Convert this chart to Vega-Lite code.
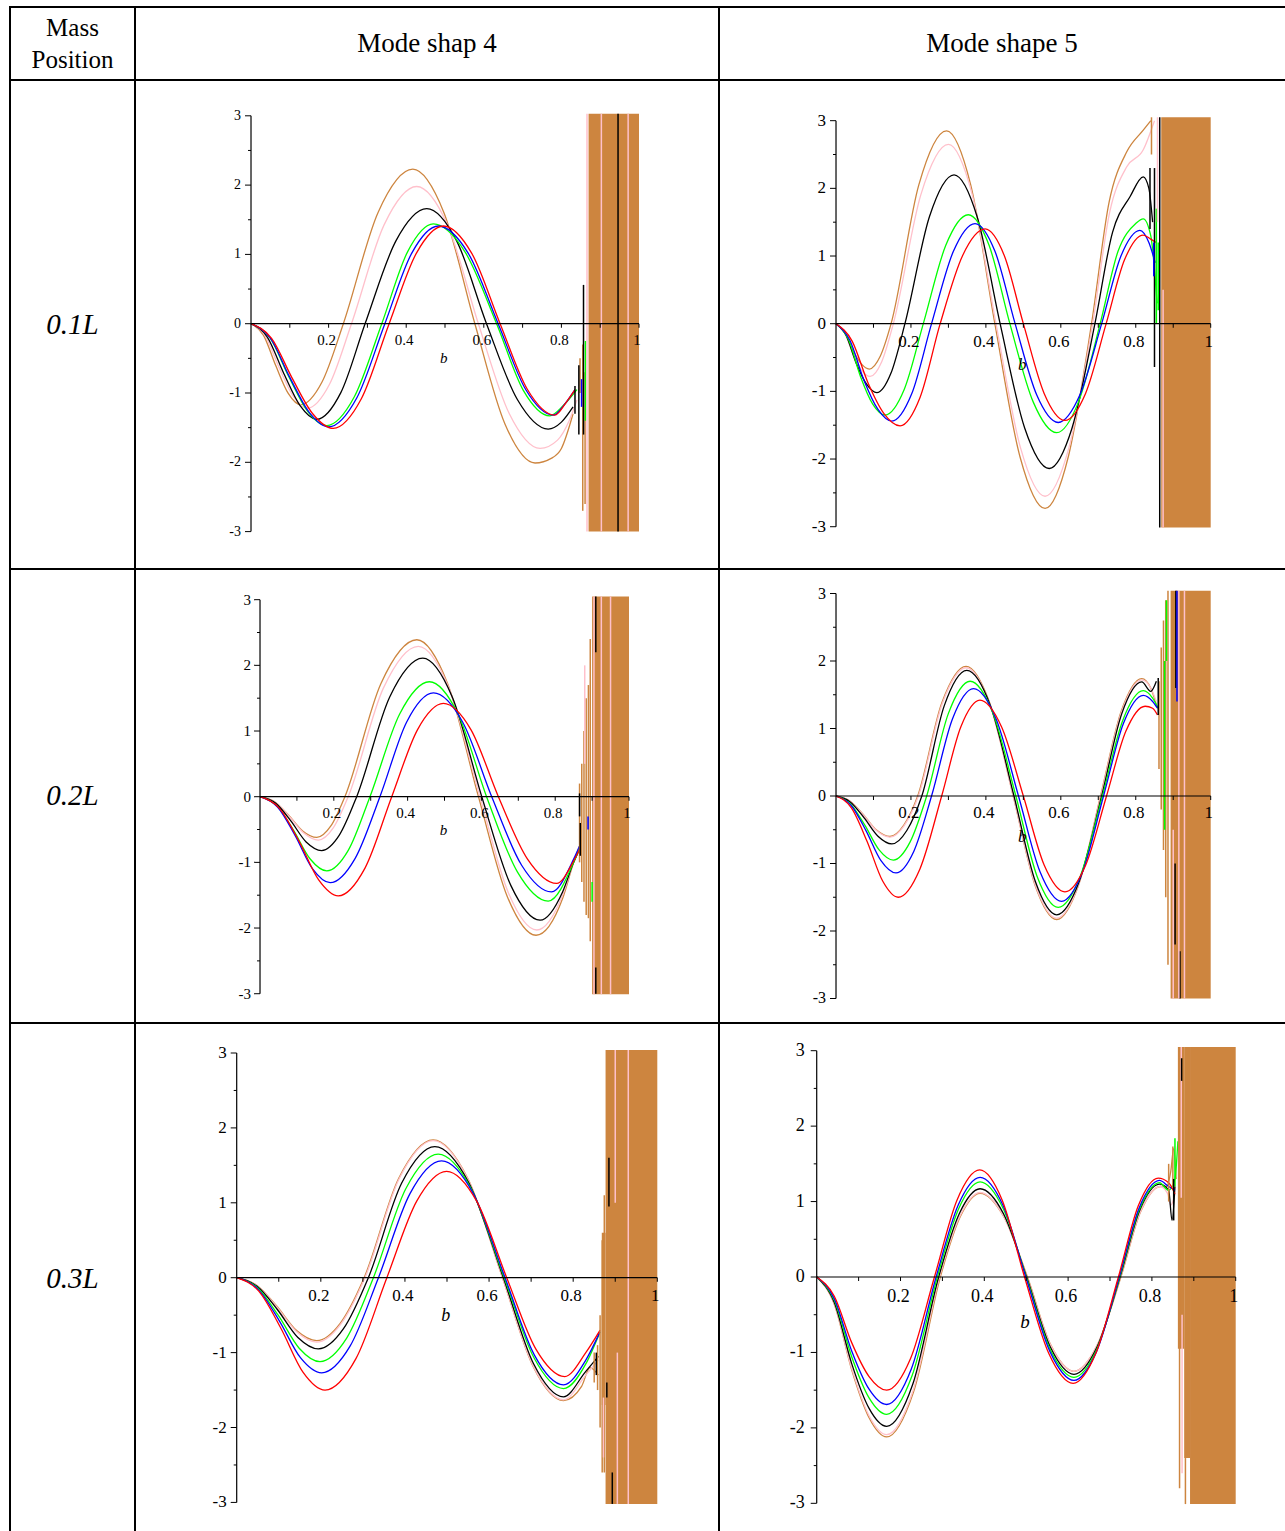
{
"$schema":"https://vega.github.io/schema/vega-lite/v6.json",
"padding":{"left":9,"top":6,"right":0,"bottom":0},
"config":{"view":{"stroke":"#000000","strokeWidth":2},"concat":{"spacing":0},"text":{"font":"Liberation Serif","color":"#000000"}},
"spacing":0,
"bounds":"flush",
"columns":3,
"datasets":{
"xt":[{"x":0.1,"y":0},{"x":0.2,"y":0},{"x":0.3,"y":0},{"x":0.4,"y":0},{"x":0.5,"y":0},{"x":0.6,"y":0},{"x":0.7,"y":0},{"x":0.8,"y":0},{"x":0.9,"y":0},{"x":1.0,"y":0}],
"ytM":[{"x":0,"y":-3},{"x":0,"y":-2},{"x":0,"y":-1},{"x":0,"y":0},{"x":0,"y":1},{"x":0,"y":2},{"x":0,"y":3}],
"ytm":[{"x":0,"y":-2.5},{"x":0,"y":-1.5},{"x":0,"y":-0.5},{"x":0,"y":0.5},{"x":0,"y":1.5},{"x":0,"y":2.5}],
"xl":[{"x":0.2,"y":0,"t":"0.2"},{"x":0.4,"y":0,"t":"0.4"},{"x":0.6,"y":0,"t":"0.6"},{"x":0.8,"y":0,"t":"0.8"},{"x":1.0,"y":0,"t":"1"}],
"yl":[{"x":0,"y":3,"t":"3"},{"x":0,"y":2,"t":"2"},{"x":0,"y":1,"t":"1"},{"x":0,"y":0,"t":"0"},{"x":0,"y":-1,"t":"-1"},{"x":0,"y":-2,"t":"-2"},{"x":0,"y":-3,"t":"-3"}],
"al":[{"x":0,"y":-3,"x2":0,"y2":3},{"x":0,"y":0,"x2":1.0,"y2":0}],
"bl":[{"x":0.497,"y":0,"t":"b"}],
"cA":[
{"s":"brown","x":0,"y":0},{"s":"brown","x":0.032,"y":-0.164},{"s":"brown","x":0.064,"y":-0.608},{"s":"brown","x":0.096,"y":-1.006},{"s":"brown","x":0.128,"y":-1.17},{"s":"brown","x":0.183,"y":-0.842},{"s":"brown","x":0.238,"y":0},{"s":"brown","x":0.3275,"y":1.606},{"s":"brown","x":0.417,"y":2.23},{"s":"brown","x":0.497,"y":1.606},{"s":"brown","x":0.577,"y":0},{"s":"brown","x":0.6545,"y":-1.447},{"s":"brown","x":0.732,"y":-2.01},{"s":"brown","x":0.775,"y":-1.94},{"s":"brown","x":0.8,"y":-1.8},{"s":"brown","x":0.83,"y":-1.3},
{"s":"pink","x":0,"y":0},{"s":"pink","x":0.036,"y":-0.171},{"s":"pink","x":0.0725,"y":-0.634},{"s":"pink","x":0.109,"y":-1.049},{"s":"pink","x":0.145,"y":-1.22},{"s":"pink","x":0.202,"y":-0.878},{"s":"pink","x":0.259,"y":0},{"s":"pink","x":0.343,"y":1.426},{"s":"pink","x":0.427,"y":1.98},{"s":"pink","x":0.5065,"y":1.426},{"s":"pink","x":0.586,"y":0},{"s":"pink","x":0.6655,"y":-1.296},{"s":"pink","x":0.745,"y":-1.8},{"s":"pink","x":0.79,"y":-1.68},{"s":"pink","x":0.82,"y":-1.4},{"s":"pink","x":0.84,"y":-1.1},
{"s":"black","x":0,"y":0},{"s":"black","x":0.042,"y":-0.193},{"s":"black","x":0.0845,"y":-0.718},{"s":"black","x":0.127,"y":-1.187},{"s":"black","x":0.169,"y":-1.38},{"s":"black","x":0.2315,"y":-0.994},{"s":"black","x":0.294,"y":0},{"s":"black","x":0.3735,"y":1.195},{"s":"black","x":0.453,"y":1.66},{"s":"black","x":0.53,"y":1.195},{"s":"black","x":0.607,"y":0},{"s":"black","x":0.6865,"y":-1.094},{"s":"black","x":0.766,"y":-1.52},{"s":"black","x":0.8,"y":-1.42},{"s":"black","x":0.83,"y":-1.2},
{"s":"green","x":0,"y":0},{"s":"green","x":0.049,"y":-0.206},{"s":"green","x":0.0975,"y":-0.764},{"s":"green","x":0.146,"y":-1.264},{"s":"green","x":0.195,"y":-1.47},{"s":"green","x":0.266,"y":-1.058},{"s":"green","x":0.337,"y":0},{"s":"green","x":0.4035,"y":1.037},{"s":"green","x":0.47,"y":1.44},{"s":"green","x":0.5515,"y":1.037},{"s":"green","x":0.633,"y":0},{"s":"green","x":0.7015,"y":-0.958},{"s":"green","x":0.77,"y":-1.33},{"s":"green","x":0.805,"y":-1.18},{"s":"green","x":0.84,"y":-0.95},
{"s":"blue","x":0,"y":0},{"s":"blue","x":0.05,"y":-0.209},{"s":"blue","x":0.1,"y":-0.775},{"s":"blue","x":0.15,"y":-1.281},{"s":"blue","x":0.2,"y":-1.49},{"s":"blue","x":0.2725,"y":-1.073},{"s":"blue","x":0.345,"y":0},{"s":"blue","x":0.414,"y":1.015},{"s":"blue","x":0.483,"y":1.41},{"s":"blue","x":0.56,"y":1.015},{"s":"blue","x":0.637,"y":0},{"s":"blue","x":0.708,"y":-0.95},{"s":"blue","x":0.779,"y":-1.32},{"s":"blue","x":0.81,"y":-1.15},{"s":"blue","x":0.835,"y":-0.95},
{"s":"red","x":0,"y":0},{"s":"red","x":0.053,"y":-0.211},{"s":"red","x":0.106,"y":-0.785},{"s":"red","x":0.159,"y":-1.299},{"s":"red","x":0.212,"y":-1.51},{"s":"red","x":0.284,"y":-1.087},{"s":"red","x":0.356,"y":0},{"s":"red","x":0.426,"y":1.015},{"s":"red","x":0.496,"y":1.41},{"s":"red","x":0.569,"y":1.015},{"s":"red","x":0.642,"y":0},{"s":"red","x":0.7125,"y":-0.95},{"s":"red","x":0.783,"y":-1.32},{"s":"red","x":0.814,"y":-1.12},{"s":"red","x":0.835,"y":-0.95}
],
"bA":[{"x":0.87,"x2":1.0,"y":-3.0,"y2":3.03}],
"nA":[{"s":"brown","x":0.848,"y":-1.0,"y2":-0.5},{"s":"brown","x":0.855,"y":-2.7,"y2":-0.3},{"s":"brown","x":0.861,"y":-2.6,"y2":-0.7},{"s":"black","x":0.835,"y":-1.3,"y2":-0.9},{"s":"black","x":0.845,"y":-1.6,"y2":-0.6},{"s":"black","x":0.857,"y":-1.6,"y2":0.56},{"s":"blue","x":0.852,"y":-1.2,"y2":-0.8},{"s":"green","x":0.862,"y":-1.4,"y2":-0.25},{"s":"pink","x":0.866,"y":-3.0,"y2":3.03},{"s":"pink","x":0.903,"y":-3.0,"y2":3.03},{"s":"pink","x":0.972,"y":-3.0,"y2":3.03},{"s":"black","x":0.946,"y":-3.0,"y2":3.03}],
"cB":[
{"s":"brown","x":0,"y":0},{"s":"brown","x":0.022,"y":-0.114},{"s":"brown","x":0.0445,"y":-0.389},{"s":"brown","x":0.067,"y":-0.59},{"s":"brown","x":0.089,"y":-0.67},{"s":"brown","x":0.118,"y":-0.482},{"s":"brown","x":0.147,"y":0},{"s":"brown","x":0.221,"y":2.052},{"s":"brown","x":0.295,"y":2.85},{"s":"brown","x":0.3595,"y":2.052},{"s":"brown","x":0.424,"y":0},{"s":"brown","x":0.491,"y":-1.966},{"s":"brown","x":0.558,"y":-2.73},{"s":"brown","x":0.62,"y":-1.966},{"s":"brown","x":0.682,"y":0},{"s":"brown","x":0.729,"y":1.8},{"s":"brown","x":0.776,"y":2.54},{"s":"brown","x":0.82,"y":2.86},{"s":"brown","x":0.84,"y":3.0},
{"s":"pink","x":0,"y":0},{"s":"pink","x":0.023,"y":-0.133},{"s":"pink","x":0.0455,"y":-0.452},{"s":"pink","x":0.068,"y":-0.686},{"s":"pink","x":0.091,"y":-0.78},{"s":"pink","x":0.122,"y":-0.562},{"s":"pink","x":0.153,"y":0},{"s":"pink","x":0.2265,"y":1.908},{"s":"pink","x":0.3,"y":2.65},{"s":"pink","x":0.3635,"y":1.908},{"s":"pink","x":0.427,"y":0},{"s":"pink","x":0.4925,"y":-1.836},{"s":"pink","x":0.558,"y":-2.55},{"s":"pink","x":0.6215,"y":-1.836},{"s":"pink","x":0.685,"y":0},{"s":"pink","x":0.7305,"y":1.65},{"s":"pink","x":0.776,"y":2.32},{"s":"pink","x":0.82,"y":2.57},{"s":"pink","x":0.85,"y":3.0},
{"s":"black","x":0,"y":0},{"s":"black","x":0.027,"y":-0.173},{"s":"black","x":0.0545,"y":-0.592},{"s":"black","x":0.082,"y":-0.898},{"s":"black","x":0.109,"y":-1.02},{"s":"black","x":0.1465,"y":-0.734},{"s":"black","x":0.184,"y":0},{"s":"black","x":0.2495,"y":1.584},{"s":"black","x":0.315,"y":2.2},{"s":"black","x":0.3765,"y":1.584},{"s":"black","x":0.438,"y":0},{"s":"black","x":0.5035,"y":-1.541},{"s":"black","x":0.569,"y":-2.14},{"s":"black","x":0.63,"y":-1.541},{"s":"black","x":0.691,"y":0},{"s":"black","x":0.738,"y":1.35},{"s":"black","x":0.785,"y":1.88},{"s":"black","x":0.82,"y":2.17},{"s":"black","x":0.835,"y":2.0},{"s":"black","x":0.845,"y":1.5},
{"s":"green","x":0,"y":0},{"s":"green","x":0.033,"y":-0.23},{"s":"green","x":0.0655,"y":-0.783},{"s":"green","x":0.098,"y":-1.188},{"s":"green","x":0.131,"y":-1.35},{"s":"green","x":0.182,"y":-0.972},{"s":"green","x":0.233,"y":0},{"s":"green","x":0.293,"y":1.159},{"s":"green","x":0.353,"y":1.61},{"s":"green","x":0.4085,"y":1.159},{"s":"green","x":0.464,"y":0},{"s":"green","x":0.5265,"y":-1.159},{"s":"green","x":0.589,"y":-1.61},{"s":"green","x":0.647,"y":-1.159},{"s":"green","x":0.705,"y":0},{"s":"green","x":0.7525,"y":1.066},{"s":"green","x":0.8,"y":1.48},{"s":"green","x":0.82,"y":1.55},{"s":"green","x":0.84,"y":1.3},{"s":"green","x":0.857,"y":0.3},
{"s":"blue","x":0,"y":0},{"s":"blue","x":0.037,"y":-0.245},{"s":"blue","x":0.0745,"y":-0.835},{"s":"blue","x":0.112,"y":-1.267},{"s":"blue","x":0.149,"y":-1.44},{"s":"blue","x":0.202,"y":-1.037},{"s":"blue","x":0.255,"y":0},{"s":"blue","x":0.313,"y":1.066},{"s":"blue","x":0.371,"y":1.48},{"s":"blue","x":0.4245,"y":1.066},{"s":"blue","x":0.478,"y":0},{"s":"blue","x":0.5355,"y":-1.051},{"s":"blue","x":0.593,"y":-1.46},{"s":"blue","x":0.651,"y":-1.051},{"s":"blue","x":0.709,"y":0},{"s":"blue","x":0.76,"y":0.994},{"s":"blue","x":0.811,"y":1.38},{"s":"blue","x":0.835,"y":1.2},{"s":"blue","x":0.852,"y":0.9},
{"s":"red","x":0,"y":0},{"s":"red","x":0.043,"y":-0.257},{"s":"red","x":0.0855,"y":-0.876},{"s":"red","x":0.128,"y":-1.329},{"s":"red","x":0.171,"y":-1.51},{"s":"red","x":0.2245,"y":-1.087},{"s":"red","x":0.278,"y":0},{"s":"red","x":0.338,"y":1.008},{"s":"red","x":0.398,"y":1.4},{"s":"red","x":0.449,"y":1.008},{"s":"red","x":0.5,"y":0},{"s":"red","x":0.5555,"y":-1.03},{"s":"red","x":0.611,"y":-1.43},{"s":"red","x":0.666,"y":-1.03},{"s":"red","x":0.721,"y":0},{"s":"red","x":0.77,"y":0.943},{"s":"red","x":0.82,"y":1.31},{"s":"red","x":0.84,"y":1.25},{"s":"red","x":0.855,"y":1.2}
],
"bB":[{"x":0.868,"x2":1.0,"y":-3.01,"y2":3.05}],
"nB":[{"s":"black","x":0.85,"y":-0.64,"y2":2.3},{"s":"black","x":0.838,"y":1.4,"y2":2.3},{"s":"blue","x":0.848,"y":0.7,"y2":1.2},{"s":"green","x":0.855,"y":0.0,"y2":1.7},{"s":"green","x":0.86,"y":0.2,"y2":1.2},{"s":"pink","x":0.858,"y":1.5,"y2":3.05},{"s":"brown","x":0.842,"y":2.5,"y2":3.05},{"s":"black","x":0.864,"y":-3.01,"y2":3.05},{"s":"pink","x":0.873,"y":-3.01,"y2":0.5}],
"cC":[
{"s":"brown","x":0,"y":0},{"s":"brown","x":0.0385,"y":-0.074},{"s":"brown","x":0.077,"y":-0.279},{"s":"brown","x":0.1155,"y":-0.521},{"s":"brown","x":0.154,"y":-0.62},{"s":"brown","x":0.192,"y":-0.446},{"s":"brown","x":0.23,"y":0},{"s":"brown","x":0.3275,"y":1.721},{"s":"brown","x":0.425,"y":2.39},{"s":"brown","x":0.5085,"y":1.721},{"s":"brown","x":0.592,"y":0},{"s":"brown","x":0.67,"y":-1.519},{"s":"brown","x":0.748,"y":-2.11},{"s":"brown","x":0.82,"y":-1.55},{"s":"brown","x":0.85,"y":-1.0},{"s":"brown","x":0.866,"y":-0.75},
{"s":"pink","x":0,"y":0},{"s":"pink","x":0.0395,"y":-0.079},{"s":"pink","x":0.079,"y":-0.297},{"s":"pink","x":0.1185,"y":-0.554},{"s":"pink","x":0.158,"y":-0.66},{"s":"pink","x":0.1985,"y":-0.475},{"s":"pink","x":0.239,"y":0},{"s":"pink","x":0.334,"y":1.649},{"s":"pink","x":0.429,"y":2.29},{"s":"pink","x":0.5125,"y":1.649},{"s":"pink","x":0.596,"y":0},{"s":"pink","x":0.673,"y":-1.462},{"s":"pink","x":0.75,"y":-2.03},{"s":"pink","x":0.82,"y":-1.5},{"s":"pink","x":0.85,"y":-1.0},{"s":"pink","x":0.866,"y":-0.8},
{"s":"black","x":0,"y":0},{"s":"black","x":0.042,"y":-0.098},{"s":"black","x":0.0835,"y":-0.369},{"s":"black","x":0.125,"y":-0.689},{"s":"black","x":0.167,"y":-0.82},{"s":"black","x":0.2145,"y":-0.59},{"s":"black","x":0.262,"y":0},{"s":"black","x":0.3515,"y":1.519},{"s":"black","x":0.441,"y":2.11},{"s":"black","x":0.521,"y":1.519},{"s":"black","x":0.601,"y":0},{"s":"black","x":0.68,"y":-1.354},{"s":"black","x":0.759,"y":-1.88},{"s":"black","x":0.82,"y":-1.45},{"s":"black","x":0.85,"y":-1.0},{"s":"black","x":0.866,"y":-0.8},
{"s":"green","x":0,"y":0},{"s":"green","x":0.045,"y":-0.136},{"s":"green","x":0.0905,"y":-0.509},{"s":"green","x":0.136,"y":-0.949},{"s":"green","x":0.181,"y":-1.13},{"s":"green","x":0.2395,"y":-0.814},{"s":"green","x":0.298,"y":0},{"s":"green","x":0.3785,"y":1.26},{"s":"green","x":0.459,"y":1.75},{"s":"green","x":0.5365,"y":1.26},{"s":"green","x":0.614,"y":0},{"s":"green","x":0.6975,"y":-1.145},{"s":"green","x":0.781,"y":-1.59},{"s":"green","x":0.85,"y":-1.0},{"s":"green","x":0.866,"y":-0.78},
{"s":"blue","x":0,"y":0},{"s":"blue","x":0.0475,"y":-0.157},{"s":"blue","x":0.095,"y":-0.59},{"s":"blue","x":0.1425,"y":-1.1},{"s":"blue","x":0.19,"y":-1.31},{"s":"blue","x":0.2575,"y":-0.943},{"s":"blue","x":0.325,"y":0},{"s":"blue","x":0.3975,"y":1.138},{"s":"blue","x":0.47,"y":1.58},{"s":"blue","x":0.549,"y":1.138},{"s":"blue","x":0.628,"y":0},{"s":"blue","x":0.709,"y":-1.044},{"s":"blue","x":0.79,"y":-1.45},{"s":"blue","x":0.85,"y":-0.95},{"s":"blue","x":0.866,"y":-0.75},
{"s":"red","x":0,"y":0},{"s":"red","x":0.053,"y":-0.181},{"s":"red","x":0.106,"y":-0.68},{"s":"red","x":0.159,"y":-1.268},{"s":"red","x":0.212,"y":-1.51},{"s":"red","x":0.2845,"y":-1.087},{"s":"red","x":0.357,"y":0},{"s":"red","x":0.427,"y":1.022},{"s":"red","x":0.497,"y":1.42},{"s":"red","x":0.5715,"y":1.022},{"s":"red","x":0.646,"y":0},{"s":"red","x":0.725,"y":-0.95},{"s":"red","x":0.804,"y":-1.32},{"s":"red","x":0.849,"y":-0.99},{"s":"red","x":0.866,"y":-0.8}
],
"bC":[{"x":0.9,"x2":1.0,"y":-3.01,"y2":3.05}],
"nC":[{"s":"brown","x":0.866,"y":-1.0,"y2":0.2},{"s":"brown","x":0.872,"y":-1.3,"y2":0.5},{"s":"brown","x":0.878,"y":-1.6,"y2":1.0},{"s":"brown","x":0.884,"y":-1.8,"y2":1.5},{"s":"brown","x":0.89,"y":-1.85,"y2":1.7},{"s":"brown","x":0.895,"y":-2.2,"y2":2.4},{"s":"black","x":0.868,"y":-0.9,"y2":-0.4},{"s":"black","x":0.866,"y":-0.3,"y2":0.05},{"s":"black","x":0.91,"y":2.2,"y2":3.05},{"s":"black","x":0.91,"y":-3.0,"y2":-2.6},{"s":"blue","x":0.889,"y":-0.5,"y2":-0.3},{"s":"green","x":0.9,"y":-1.6,"y2":-1.3},{"s":"pink","x":0.905,"y":-3.01,"y2":3.05},{"s":"pink","x":0.925,"y":-3.01,"y2":3.05},{"s":"pink","x":0.95,"y":-3.01,"y2":3.05},{"s":"pink","x":0.88,"y":0.5,"y2":2.0}],
"cD":[
{"s":"brown","x":0,"y":0},{"s":"brown","x":0.036,"y":-0.072},{"s":"brown","x":0.072,"y":-0.27},{"s":"brown","x":0.108,"y":-0.504},{"s":"brown","x":0.144,"y":-0.6},{"s":"brown","x":0.181,"y":-0.432},{"s":"brown","x":0.218,"y":0},{"s":"brown","x":0.2825,"y":1.382},{"s":"brown","x":0.347,"y":1.92},{"s":"brown","x":0.41,"y":1.382},{"s":"brown","x":0.473,"y":0},{"s":"brown","x":0.531,"y":-1.318},{"s":"brown","x":0.589,"y":-1.83},{"s":"brown","x":0.6475,"y":-1.318},{"s":"brown","x":0.706,"y":0},{"s":"brown","x":0.761,"y":1.253},{"s":"brown","x":0.816,"y":1.74},{"s":"brown","x":0.84,"y":1.6},{"s":"brown","x":0.855,"y":1.35},
{"s":"pink","x":0,"y":0},{"s":"pink","x":0.036,"y":-0.073},{"s":"pink","x":0.072,"y":-0.275},{"s":"pink","x":0.108,"y":-0.512},{"s":"pink","x":0.144,"y":-0.61},{"s":"pink","x":0.182,"y":-0.439},{"s":"pink","x":0.22,"y":0},{"s":"pink","x":0.2835,"y":1.368},{"s":"pink","x":0.347,"y":1.9},{"s":"pink","x":0.41,"y":1.368},{"s":"pink","x":0.473,"y":0},{"s":"pink","x":0.531,"y":-1.303},{"s":"pink","x":0.589,"y":-1.81},{"s":"pink","x":0.648,"y":-1.303},{"s":"pink","x":0.707,"y":0},{"s":"pink","x":0.7615,"y":1.238},{"s":"pink","x":0.816,"y":1.72},{"s":"pink","x":0.84,"y":1.6},{"s":"pink","x":0.855,"y":1.4},
{"s":"black","x":0,"y":0},{"s":"black","x":0.037,"y":-0.085},{"s":"black","x":0.0745,"y":-0.32},{"s":"black","x":0.112,"y":-0.596},{"s":"black","x":0.149,"y":-0.71},{"s":"black","x":0.189,"y":-0.511},{"s":"black","x":0.229,"y":0},{"s":"black","x":0.289,"y":1.339},{"s":"black","x":0.349,"y":1.86},{"s":"black","x":0.412,"y":1.339},{"s":"black","x":0.475,"y":0},{"s":"black","x":0.532,"y":-1.267},{"s":"black","x":0.589,"y":-1.76},{"s":"black","x":0.649,"y":-1.267},{"s":"black","x":0.709,"y":0},{"s":"black","x":0.7625,"y":1.217},{"s":"black","x":0.816,"y":1.69},{"s":"black","x":0.84,"y":1.55},{"s":"black","x":0.855,"y":1.7},
{"s":"green","x":0,"y":0},{"s":"green","x":0.038,"y":-0.114},{"s":"green","x":0.0765,"y":-0.428},{"s":"green","x":0.115,"y":-0.798},{"s":"green","x":0.153,"y":-0.95},{"s":"green","x":0.1975,"y":-0.684},{"s":"green","x":0.242,"y":0},{"s":"green","x":0.3,"y":1.224},{"s":"green","x":0.358,"y":1.7},{"s":"green","x":0.419,"y":1.224},{"s":"green","x":0.48,"y":0},{"s":"green","x":0.5365,"y":-1.188},{"s":"green","x":0.593,"y":-1.65},{"s":"green","x":0.652,"y":-1.188},{"s":"green","x":0.711,"y":0},{"s":"green","x":0.7655,"y":1.123},{"s":"green","x":0.82,"y":1.56},{"s":"green","x":0.845,"y":1.45},{"s":"green","x":0.86,"y":1.3},
{"s":"blue","x":0,"y":0},{"s":"blue","x":0.04,"y":-0.137},{"s":"blue","x":0.08,"y":-0.513},{"s":"blue","x":0.12,"y":-0.958},{"s":"blue","x":0.16,"y":-1.14},{"s":"blue","x":0.2075,"y":-0.821},{"s":"blue","x":0.255,"y":0},{"s":"blue","x":0.311,"y":1.145},{"s":"blue","x":0.367,"y":1.59},{"s":"blue","x":0.427,"y":1.145},{"s":"blue","x":0.487,"y":0},{"s":"blue","x":0.5445,"y":-1.123},{"s":"blue","x":0.602,"y":-1.56},{"s":"blue","x":0.658,"y":-1.123},{"s":"blue","x":0.714,"y":0},{"s":"blue","x":0.767,"y":1.073},{"s":"blue","x":0.82,"y":1.49},{"s":"blue","x":0.845,"y":1.4},{"s":"blue","x":0.858,"y":1.3},
{"s":"red","x":0,"y":0},{"s":"red","x":0.0415,"y":-0.18},{"s":"red","x":0.083,"y":-0.675},{"s":"red","x":0.1245,"y":-1.26},{"s":"red","x":0.166,"y":-1.5},{"s":"red","x":0.224,"y":-1.08},{"s":"red","x":0.282,"y":0},{"s":"red","x":0.333,"y":1.022},{"s":"red","x":0.384,"y":1.42},{"s":"red","x":0.442,"y":1.022},{"s":"red","x":0.5,"y":0},{"s":"red","x":0.5555,"y":-1.022},{"s":"red","x":0.611,"y":-1.42},{"s":"red","x":0.6665,"y":-1.022},{"s":"red","x":0.722,"y":0},{"s":"red","x":0.7735,"y":0.958},{"s":"red","x":0.825,"y":1.33},{"s":"red","x":0.845,"y":1.3},{"s":"red","x":0.858,"y":1.2}
],
"bD":[{"x":0.893,"x2":1.0,"y":-3.0,"y2":3.04}],
"nD":[{"s":"brown","x":0.862,"y":0.4,"y2":1.7},{"s":"brown","x":0.868,"y":-0.2,"y2":2.2},{"s":"brown","x":0.874,"y":-0.8,"y2":2.6},{"s":"brown","x":0.88,"y":-1.5,"y2":2.9},{"s":"brown","x":0.886,"y":-2.5,"y2":3.04},{"s":"green","x":0.877,"y":-0.5,"y2":2.0},{"s":"green","x":0.882,"y":2.0,"y2":2.9},{"s":"black","x":0.86,"y":1.2,"y2":1.75},{"s":"black","x":0.905,"y":-2.2,"y2":-1.0},{"s":"black","x":0.907,"y":1.6,"y2":3.04},{"s":"black","x":0.918,"y":-3.0,"y2":-2.3},{"s":"blue","x":0.91,"y":1.4,"y2":3.04},{"s":"pink","x":0.9,"y":-3.0,"y2":-0.5},{"s":"pink","x":0.915,"y":-3.0,"y2":3.04},{"s":"pink","x":0.93,"y":-3.0,"y2":3.04}],
"cE":[
{"s":"brown","x":0,"y":0},{"s":"brown","x":0.0475,"y":-0.101},{"s":"brown","x":0.095,"y":-0.378},{"s":"brown","x":0.1425,"y":-0.706},{"s":"brown","x":0.19,"y":-0.84},{"s":"brown","x":0.2465,"y":-0.605},{"s":"brown","x":0.303,"y":0},{"s":"brown","x":0.385,"y":1.325},{"s":"brown","x":0.467,"y":1.84},{"s":"brown","x":0.5495,"y":1.325},{"s":"brown","x":0.632,"y":0},{"s":"brown","x":0.7045,"y":-1.181},{"s":"brown","x":0.777,"y":-1.64},{"s":"brown","x":0.82,"y":-1.45},{"s":"brown","x":0.84,"y":-1.2},{"s":"brown","x":0.86,"y":-1.3},
{"s":"pink","x":0,"y":0},{"s":"pink","x":0.0475,"y":-0.103},{"s":"pink","x":0.095,"y":-0.387},{"s":"pink","x":0.1425,"y":-0.722},{"s":"pink","x":0.19,"y":-0.86},{"s":"pink","x":0.2475,"y":-0.619},{"s":"pink","x":0.305,"y":0},{"s":"pink","x":0.386,"y":1.318},{"s":"pink","x":0.467,"y":1.83},{"s":"pink","x":0.5495,"y":1.318},{"s":"pink","x":0.632,"y":0},{"s":"pink","x":0.7045,"y":-1.174},{"s":"pink","x":0.777,"y":-1.63},{"s":"pink","x":0.83,"y":-1.3},{"s":"pink","x":0.86,"y":-1.1},
{"s":"black","x":0,"y":0},{"s":"black","x":0.0485,"y":-0.114},{"s":"black","x":0.097,"y":-0.428},{"s":"black","x":0.1455,"y":-0.798},{"s":"black","x":0.194,"y":-0.95},{"s":"black","x":0.2535,"y":-0.684},{"s":"black","x":0.313,"y":0},{"s":"black","x":0.392,"y":1.26},{"s":"black","x":0.471,"y":1.75},{"s":"black","x":0.5525,"y":1.26},{"s":"black","x":0.634,"y":0},{"s":"black","x":0.7055,"y":-1.145},{"s":"black","x":0.777,"y":-1.59},{"s":"black","x":0.83,"y":-1.25},{"s":"black","x":0.86,"y":-1.05},
{"s":"green","x":0,"y":0},{"s":"green","x":0.0495,"y":-0.134},{"s":"green","x":0.099,"y":-0.504},{"s":"green","x":0.1485,"y":-0.941},{"s":"green","x":0.198,"y":-1.12},{"s":"green","x":0.2615,"y":-0.806},{"s":"green","x":0.325,"y":0},{"s":"green","x":0.402,"y":1.188},{"s":"green","x":0.479,"y":1.65},{"s":"green","x":0.5575,"y":1.188},{"s":"green","x":0.636,"y":0},{"s":"green","x":0.7065,"y":-1.066},{"s":"green","x":0.777,"y":-1.48},{"s":"green","x":0.83,"y":-1.15},{"s":"green","x":0.864,"y":-0.72},
{"s":"blue","x":0,"y":0},{"s":"blue","x":0.0505,"y":-0.152},{"s":"blue","x":0.101,"y":-0.572},{"s":"blue","x":0.1515,"y":-1.067},{"s":"blue","x":0.202,"y":-1.27},{"s":"blue","x":0.2695,"y":-0.914},{"s":"blue","x":0.337,"y":0},{"s":"blue","x":0.412,"y":1.123},{"s":"blue","x":0.487,"y":1.56},{"s":"blue","x":0.5625,"y":1.123},{"s":"blue","x":0.638,"y":0},{"s":"blue","x":0.7075,"y":-1.03},{"s":"blue","x":0.777,"y":-1.43},{"s":"blue","x":0.83,"y":-1.1},{"s":"blue","x":0.864,"y":-0.72},
{"s":"red","x":0,"y":0},{"s":"red","x":0.0525,"y":-0.18},{"s":"red","x":0.105,"y":-0.675},{"s":"red","x":0.1575,"y":-1.26},{"s":"red","x":0.21,"y":-1.5},{"s":"red","x":0.2835,"y":-1.08},{"s":"red","x":0.357,"y":0},{"s":"red","x":0.428,"y":1.022},{"s":"red","x":0.499,"y":1.42},{"s":"red","x":0.5705,"y":1.022},{"s":"red","x":0.642,"y":0},{"s":"red","x":0.711,"y":-0.95},{"s":"red","x":0.78,"y":-1.32},{"s":"red","x":0.83,"y":-1.0},{"s":"red","x":0.864,"y":-0.7}
],
"bE":[{"x":0.877,"x2":1.0,"y":-3.02,"y2":3.04},{"x":0.868,"x2":0.877,"y":-1.7,"y2":0.6}],
"nE":[{"s":"brown","x":0.85,"y":-1.4,"y2":-1.0},{"s":"brown","x":0.858,"y":-1.5,"y2":-0.9},{"s":"brown","x":0.864,"y":-2.0,"y2":-0.5},{"s":"brown","x":0.869,"y":-2.6,"y2":0.5},{"s":"brown","x":0.874,"y":-2.6,"y2":1.1},{"s":"black","x":0.855,"y":-1.3,"y2":-1.0},{"s":"black","x":0.885,"y":0.95,"y2":1.6},{"s":"black","x":0.88,"y":-1.6,"y2":-1.4},{"s":"black","x":0.893,"y":-3.02,"y2":-2.6},{"s":"pink","x":0.9,"y":1.0,"y2":3.04},{"s":"pink","x":0.905,"y":-3.02,"y2":-1.0},{"s":"pink","x":0.931,"y":-3.02,"y2":3.04},{"s":"pink","x":0.872,"y":-2.4,"y2":-1.6}],
"cF":[
{"s":"brown","x":0,"y":0},{"s":"brown","x":0.042,"y":-0.36},{"s":"brown","x":0.0835,"y":-1.23},{"s":"brown","x":0.125,"y":-1.866},{"s":"brown","x":0.167,"y":-2.12},{"s":"brown","x":0.231,"y":-1.526},{"s":"brown","x":0.295,"y":0},{"s":"brown","x":0.3425,"y":0.799},{"s":"brown","x":0.39,"y":1.11},{"s":"brown","x":0.4465,"y":0.799},{"s":"brown","x":0.503,"y":0},{"s":"brown","x":0.5585,"y":-0.9},{"s":"brown","x":0.614,"y":-1.25},{"s":"brown","x":0.67,"y":-0.9},{"s":"brown","x":0.726,"y":0},{"s":"brown","x":0.773,"y":0.864},{"s":"brown","x":0.82,"y":1.2},{"s":"brown","x":0.835,"y":1.2},{"s":"brown","x":0.845,"y":1.4},{"s":"brown","x":0.852,"y":1.7},{"s":"brown","x":0.858,"y":1.3},
{"s":"pink","x":0,"y":0},{"s":"pink","x":0.042,"y":-0.355},{"s":"pink","x":0.0835,"y":-1.212},{"s":"pink","x":0.125,"y":-1.839},{"s":"pink","x":0.167,"y":-2.09},{"s":"pink","x":0.23,"y":-1.505},{"s":"pink","x":0.293,"y":0},{"s":"pink","x":0.3415,"y":0.806},{"s":"pink","x":0.39,"y":1.12},{"s":"pink","x":0.446,"y":0.806},{"s":"pink","x":0.502,"y":0},{"s":"pink","x":0.558,"y":-0.9},{"s":"pink","x":0.614,"y":-1.25},{"s":"pink","x":0.6695,"y":-0.9},{"s":"pink","x":0.725,"y":0},{"s":"pink","x":0.7725,"y":0.864},{"s":"pink","x":0.82,"y":1.2},{"s":"pink","x":0.838,"y":1.1},{"s":"pink","x":0.845,"y":0.95},{"s":"pink","x":0.855,"y":1.1},
{"s":"black","x":0,"y":0},{"s":"black","x":0.042,"y":-0.337},{"s":"black","x":0.0835,"y":-1.148},{"s":"black","x":0.125,"y":-1.742},{"s":"black","x":0.167,"y":-1.98},{"s":"black","x":0.229,"y":-1.426},{"s":"black","x":0.291,"y":0},{"s":"black","x":0.3405,"y":0.842},{"s":"black","x":0.39,"y":1.17},{"s":"black","x":0.4455,"y":0.842},{"s":"black","x":0.501,"y":0},{"s":"black","x":0.5575,"y":-0.929},{"s":"black","x":0.614,"y":-1.29},{"s":"black","x":0.669,"y":-0.929},{"s":"black","x":0.724,"y":0},{"s":"black","x":0.771,"y":0.886},{"s":"black","x":0.818,"y":1.23},{"s":"black","x":0.84,"y":1.15},{"s":"black","x":0.848,"y":0.75},{"s":"black","x":0.855,"y":1.2},
{"s":"green","x":0,"y":0},{"s":"green","x":0.042,"y":-0.309},{"s":"green","x":0.0835,"y":-1.056},{"s":"green","x":0.125,"y":-1.602},{"s":"green","x":0.167,"y":-1.82},{"s":"green","x":0.2275,"y":-1.31},{"s":"green","x":0.288,"y":0},{"s":"green","x":0.339,"y":0.907},{"s":"green","x":0.39,"y":1.26},{"s":"green","x":0.445,"y":0.907},{"s":"green","x":0.5,"y":0},{"s":"green","x":0.557,"y":-0.958},{"s":"green","x":0.614,"y":-1.33},{"s":"green","x":0.6685,"y":-0.958},{"s":"green","x":0.723,"y":0},{"s":"green","x":0.7705,"y":0.9},{"s":"green","x":0.818,"y":1.25},{"s":"green","x":0.84,"y":1.15},{"s":"green","x":0.855,"y":1.3},{"s":"green","x":0.862,"y":1.8},
{"s":"blue","x":0,"y":0},{"s":"blue","x":0.042,"y":-0.287},{"s":"blue","x":0.0835,"y":-0.98},{"s":"blue","x":0.125,"y":-1.487},{"s":"blue","x":0.167,"y":-1.69},{"s":"blue","x":0.226,"y":-1.217},{"s":"blue","x":0.285,"y":0},{"s":"blue","x":0.3375,"y":0.95},{"s":"blue","x":0.39,"y":1.32},{"s":"blue","x":0.4445,"y":0.95},{"s":"blue","x":0.499,"y":0},{"s":"blue","x":0.5565,"y":-0.986},{"s":"blue","x":0.614,"y":-1.37},{"s":"blue","x":0.668,"y":-0.986},{"s":"blue","x":0.722,"y":0},{"s":"blue","x":0.77,"y":0.922},{"s":"blue","x":0.818,"y":1.28},{"s":"blue","x":0.84,"y":1.2},{"s":"blue","x":0.855,"y":1.15},
{"s":"red","x":0,"y":0},{"s":"red","x":0.042,"y":-0.255},{"s":"red","x":0.0835,"y":-0.87},{"s":"red","x":0.125,"y":-1.32},{"s":"red","x":0.167,"y":-1.5},{"s":"red","x":0.224,"y":-1.08},{"s":"red","x":0.281,"y":0},{"s":"red","x":0.335,"y":1.022},{"s":"red","x":0.389,"y":1.42},{"s":"red","x":0.4425,"y":1.022},{"s":"red","x":0.496,"y":0},{"s":"red","x":0.554,"y":-1.015},{"s":"red","x":0.612,"y":-1.41},{"s":"red","x":0.666,"y":-1.015},{"s":"red","x":0.72,"y":0},{"s":"red","x":0.7675,"y":0.943},{"s":"red","x":0.815,"y":1.31},{"s":"red","x":0.84,"y":1.25},{"s":"red","x":0.855,"y":1.1}
],
"bF":[{"x":0.891,"x2":1.0,"y":-3.01,"y2":3.05},{"x":0.877,"x2":0.891,"y":-2.4,"y2":3.05},{"x":0.862,"x2":0.877,"y":-0.95,"y2":3.05}],
"nF":[{"s":"brown","x":0.84,"y":1.0,"y2":1.5},{"s":"brown","x":0.85,"y":1.2,"y2":1.73},{"s":"green","x":0.855,"y":1.2,"y2":1.84},{"s":"black","x":0.852,"y":0.75,"y2":1.3},{"s":"brown","x":0.866,"y":-2.8,"y2":3.05},{"s":"pink","x":0.87,"y":1.05,"y2":3.05},{"s":"black","x":0.871,"y":2.6,"y2":2.9},{"s":"pink","x":0.872,"y":-2.6,"y2":-0.5},{"s":"brown","x":0.88,"y":-3.01,"y2":-2.4}]
},
"concat":[
 {"width":125,"height":73,"data":{"values":[{"t":"Mass\nPosition"}]},"mark":{"type":"text","fontSize":25,"lineBreak":"\n","lineHeight":32,"dy":-16},"encoding":{"x":{"datum":0.5,"type":"quantitative","scale":{"domain":[0,1]},"axis":null},"y":{"datum":0.5,"type":"quantitative","scale":{"domain":[0,1]},"axis":null},"text":{"field":"t"}}},
 {"width":584,"height":73,"data":{"values":[{"t":"Mode shap 4"}]},"mark":{"type":"text","fontSize":27},"encoding":{"x":{"datum":0.5,"type":"quantitative","scale":{"domain":[0,1]},"axis":null},"y":{"datum":0.5,"type":"quantitative","scale":{"domain":[0,1]},"axis":null},"text":{"field":"t"}}},
 {"width":570,"height":73,"data":{"values":[{"t":"Mode shape 5"}]},"mark":{"type":"text","fontSize":27,"dx":-2},"encoding":{"x":{"datum":0.5,"type":"quantitative","scale":{"domain":[0,1]},"axis":null},"y":{"datum":0.5,"type":"quantitative","scale":{"domain":[0,1]},"axis":null},"text":{"field":"t"}}},
 {"width":125,"height":489,"data":{"values":[{"t":"0.1L"}]},"mark":{"type":"text","fontSize":29,"fontStyle":"italic"},"encoding":{"x":{"datum":0.5,"type":"quantitative","scale":{"domain":[0,1]},"axis":null},"y":{"datum":0.5,"type":"quantitative","scale":{"domain":[0,1]},"axis":null},"text":{"field":"t"}}},
 {"width":584,"height":489,
  "encoding":{"x":{"field":"x","type":"quantitative","scale":{"domain":[-0.299,1.2062],"nice":false,"zero":false},"axis":null},"y":{"field":"y","type":"quantitative","scale":{"domain":[-3.5397,3.5166],"nice":false,"zero":false},"axis":null}},
  "layer":[
   {"data":{"name":"cA"},"mark":{"type":"line","interpolate":"monotone","strokeWidth":1.3},"encoding":{"color":{"field":"s","type":"nominal","scale":{"domain":["brown","pink","black","green","blue","red"],"range":["#cd853f","#ffc0cb","#000000","#00ff00","#0000ff","#ff0000"]},"legend":null}}},
   {"data":{"name":"bA"},"mark":{"type":"rect","color":"#cd853f"},"encoding":{"x2":{"field":"x2"},"y2":{"field":"y2"}}},
   {"data":{"name":"nA"},"mark":{"type":"rule","strokeWidth":1.5},"encoding":{"y2":{"field":"y2"},"color":{"field":"s","type":"nominal","scale":{"domain":["brown","pink","black","green","blue","red"],"range":["#cd853f","#ffc0cb","#000000","#00ff00","#0000ff","#ff0000"]},"legend":null}}},
   {"data":{"name":"al"},"mark":{"type":"rule","color":"#000000","strokeWidth":1.2},"encoding":{"x2":{"field":"x2"},"y2":{"field":"y2"}}},
   {"data":{"name":"xt"},"mark":{"type":"tick","orient":"vertical","size":4,"thickness":1,"color":"#000000","yOffset":2,"opacity":1}},
   {"data":{"name":"ytM"},"mark":{"type":"tick","orient":"horizontal","size":6,"thickness":1,"color":"#000000","xOffset":-3,"opacity":1}},
   {"data":{"name":"ytm"},"mark":{"type":"tick","orient":"horizontal","size":3,"thickness":1,"color":"#000000","xOffset":-1.5,"opacity":1}},
   {"data":{"name":"xl"},"mark":{"type":"text","fontSize":15,"dy":16,"dx":-2,"baseline":"middle"},"encoding":{"text":{"field":"t"}}},
   {"data":{"name":"yl"},"mark":{"type":"text","fontSize":14,"dx":-10,"align":"right","baseline":"middle"},"encoding":{"text":{"field":"t"}}},
   {"data":{"name":"bl"},"mark":{"type":"text","fontSize":15,"fontStyle":"italic","dy":34,"baseline":"middle"},"encoding":{"text":{"field":"t"}}}
  ]},
 {"width":570,"height":489,
  "encoding":{"x":{"field":"x","type":"quantitative","scale":{"domain":[-0.3123,1.209],"nice":false,"zero":false},"axis":null},"y":{"field":"y","type":"quantitative","scale":{"domain":[-3.625,3.601],"nice":false,"zero":false},"axis":null}},
  "layer":[
   {"data":{"name":"cB"},"mark":{"type":"line","interpolate":"monotone","strokeWidth":1.3},"encoding":{"color":{"field":"s","type":"nominal","scale":{"domain":["brown","pink","black","green","blue","red"],"range":["#cd853f","#ffc0cb","#000000","#00ff00","#0000ff","#ff0000"]},"legend":null}}},
   {"data":{"name":"bB"},"mark":{"type":"rect","color":"#cd853f"},"encoding":{"x2":{"field":"x2"},"y2":{"field":"y2"}}},
   {"data":{"name":"nB"},"mark":{"type":"rule","strokeWidth":1.5},"encoding":{"y2":{"field":"y2"},"color":{"field":"s","type":"nominal","scale":{"domain":["brown","pink","black","green","blue","red"],"range":["#cd853f","#ffc0cb","#000000","#00ff00","#0000ff","#ff0000"]},"legend":null}}},
   {"data":{"name":"al"},"mark":{"type":"rule","color":"#000000","strokeWidth":1.2},"encoding":{"x2":{"field":"x2"},"y2":{"field":"y2"}}},
   {"data":{"name":"xt"},"mark":{"type":"tick","orient":"vertical","size":4,"thickness":1,"color":"#000000","yOffset":2,"opacity":1}},
   {"data":{"name":"ytM"},"mark":{"type":"tick","orient":"horizontal","size":6,"thickness":1,"color":"#000000","xOffset":-3,"opacity":1}},
   {"data":{"name":"ytm"},"mark":{"type":"tick","orient":"horizontal","size":3,"thickness":1,"color":"#000000","xOffset":-1.5,"opacity":1}},
   {"data":{"name":"xl"},"mark":{"type":"text","fontSize":17,"dy":18,"dx":-2,"baseline":"middle"},"encoding":{"text":{"field":"t"}}},
   {"data":{"name":"yl"},"mark":{"type":"text","fontSize":17,"dx":-10,"align":"right","baseline":"middle"},"encoding":{"text":{"field":"t"}}},
   {"data":{"name":"bl"},"mark":{"type":"text","fontSize":17,"fontStyle":"italic","dy":41,"baseline":"middle"},"encoding":{"text":{"field":"t"}}}
  ]},
 {"width":125,"height":454,"data":{"values":[{"t":"0.2L"}]},"mark":{"type":"text","fontSize":29,"fontStyle":"italic"},"encoding":{"x":{"datum":0.5,"type":"quantitative","scale":{"domain":[0,1]},"axis":null},"y":{"datum":0.5,"type":"quantitative","scale":{"domain":[0,1]},"axis":null},"text":{"field":"t"}}},
 {"width":584,"height":454,
  "encoding":{"x":{"field":"x","type":"quantitative","scale":{"domain":[-0.3388,1.2439],"nice":false,"zero":false},"axis":null},"y":{"field":"y","type":"quantitative","scale":{"domain":[-3.446,3.467],"nice":false,"zero":false},"axis":null}},
  "layer":[
   {"data":{"name":"cC"},"mark":{"type":"line","interpolate":"monotone","strokeWidth":1.3},"encoding":{"color":{"field":"s","type":"nominal","scale":{"domain":["brown","pink","black","green","blue","red"],"range":["#cd853f","#ffc0cb","#000000","#00ff00","#0000ff","#ff0000"]},"legend":null}}},
   {"data":{"name":"bC"},"mark":{"type":"rect","color":"#cd853f"},"encoding":{"x2":{"field":"x2"},"y2":{"field":"y2"}}},
   {"data":{"name":"nC"},"mark":{"type":"rule","strokeWidth":1.5},"encoding":{"y2":{"field":"y2"},"color":{"field":"s","type":"nominal","scale":{"domain":["brown","pink","black","green","blue","red"],"range":["#cd853f","#ffc0cb","#000000","#00ff00","#0000ff","#ff0000"]},"legend":null}}},
   {"data":{"name":"al"},"mark":{"type":"rule","color":"#000000","strokeWidth":1.2},"encoding":{"x2":{"field":"x2"},"y2":{"field":"y2"}}},
   {"data":{"name":"xt"},"mark":{"type":"tick","orient":"vertical","size":4,"thickness":1,"color":"#000000","yOffset":2,"opacity":1}},
   {"data":{"name":"ytM"},"mark":{"type":"tick","orient":"horizontal","size":6,"thickness":1,"color":"#000000","xOffset":-3,"opacity":1}},
   {"data":{"name":"ytm"},"mark":{"type":"tick","orient":"horizontal","size":3,"thickness":1,"color":"#000000","xOffset":-1.5,"opacity":1}},
   {"data":{"name":"xl"},"mark":{"type":"text","fontSize":15,"dy":16,"dx":-2,"baseline":"middle"},"encoding":{"text":{"field":"t"}}},
   {"data":{"name":"yl"},"mark":{"type":"text","fontSize":15,"dx":-9,"align":"right","baseline":"middle"},"encoding":{"text":{"field":"t"}}},
   {"data":{"name":"bl"},"mark":{"type":"text","fontSize":15,"fontStyle":"italic","dy":33,"baseline":"middle"},"encoding":{"text":{"field":"t"}}}
  ]},
 {"width":570,"height":454,
  "encoding":{"x":{"field":"x","type":"quantitative","scale":{"domain":[-0.3123,1.209],"nice":false,"zero":false},"axis":null},"y":{"field":"y","type":"quantitative","scale":{"domain":[-3.363,3.363],"nice":false,"zero":false},"axis":null}},
  "layer":[
   {"data":{"name":"cD"},"mark":{"type":"line","interpolate":"monotone","strokeWidth":1.3},"encoding":{"color":{"field":"s","type":"nominal","scale":{"domain":["brown","pink","black","green","blue","red"],"range":["#cd853f","#ffc0cb","#000000","#00ff00","#0000ff","#ff0000"]},"legend":null}}},
   {"data":{"name":"bD"},"mark":{"type":"rect","color":"#cd853f"},"encoding":{"x2":{"field":"x2"},"y2":{"field":"y2"}}},
   {"data":{"name":"nD"},"mark":{"type":"rule","strokeWidth":1.5},"encoding":{"y2":{"field":"y2"},"color":{"field":"s","type":"nominal","scale":{"domain":["brown","pink","black","green","blue","red"],"range":["#cd853f","#ffc0cb","#000000","#00ff00","#0000ff","#ff0000"]},"legend":null}}},
   {"data":{"name":"al"},"mark":{"type":"rule","color":"#000000","strokeWidth":1.2},"encoding":{"x2":{"field":"x2"},"y2":{"field":"y2"}}},
   {"data":{"name":"xt"},"mark":{"type":"tick","orient":"vertical","size":4,"thickness":1,"color":"#000000","yOffset":2,"opacity":1}},
   {"data":{"name":"ytM"},"mark":{"type":"tick","orient":"horizontal","size":6,"thickness":1,"color":"#000000","xOffset":-3,"opacity":1}},
   {"data":{"name":"ytm"},"mark":{"type":"tick","orient":"horizontal","size":3,"thickness":1,"color":"#000000","xOffset":-1.5,"opacity":1}},
   {"data":{"name":"xl"},"mark":{"type":"text","fontSize":17,"dy":17,"dx":-2,"baseline":"middle"},"encoding":{"text":{"field":"t"}}},
   {"data":{"name":"yl"},"mark":{"type":"text","fontSize":16,"dx":-10,"align":"right","baseline":"middle"},"encoding":{"text":{"field":"t"}}},
   {"data":{"name":"bl"},"mark":{"type":"text","fontSize":17,"fontStyle":"italic","dy":41,"baseline":"middle"},"encoding":{"text":{"field":"t"}}}
  ]},
 {"width":125,"height":512,"data":{"values":[{"t":"0.3L"}]},"mark":{"type":"text","fontSize":29,"fontStyle":"italic"},"encoding":{"x":{"datum":0.5,"type":"quantitative","scale":{"domain":[0,1]},"axis":null},"y":{"datum":0.5,"type":"quantitative","scale":{"domain":[0,1]},"axis":null},"text":{"field":"t"}}},
 {"width":584,"height":512,
  "encoding":{"x":{"field":"x","type":"quantitative","scale":{"domain":[-0.2418,1.1467],"nice":false,"zero":false},"axis":null},"y":{"field":"y","type":"quantitative","scale":{"domain":[-3.435,3.4005],"nice":false,"zero":false},"axis":null}},
  "layer":[
   {"data":{"name":"cE"},"mark":{"type":"line","interpolate":"monotone","strokeWidth":1.3},"encoding":{"color":{"field":"s","type":"nominal","scale":{"domain":["brown","pink","black","green","blue","red"],"range":["#cd853f","#ffc0cb","#000000","#00ff00","#0000ff","#ff0000"]},"legend":null}}},
   {"data":{"name":"bE"},"mark":{"type":"rect","color":"#cd853f"},"encoding":{"x2":{"field":"x2"},"y2":{"field":"y2"}}},
   {"data":{"name":"nE"},"mark":{"type":"rule","strokeWidth":1.5},"encoding":{"y2":{"field":"y2"},"color":{"field":"s","type":"nominal","scale":{"domain":["brown","pink","black","green","blue","red"],"range":["#cd853f","#ffc0cb","#000000","#00ff00","#0000ff","#ff0000"]},"legend":null}}},
   {"data":{"name":"al"},"mark":{"type":"rule","color":"#000000","strokeWidth":1.2},"encoding":{"x2":{"field":"x2"},"y2":{"field":"y2"}}},
   {"data":{"name":"xt"},"mark":{"type":"tick","orient":"vertical","size":4,"thickness":1,"color":"#000000","yOffset":2,"opacity":1}},
   {"data":{"name":"ytM"},"mark":{"type":"tick","orient":"horizontal","size":6,"thickness":1,"color":"#000000","xOffset":-3,"opacity":1}},
   {"data":{"name":"ytm"},"mark":{"type":"tick","orient":"horizontal","size":3,"thickness":1,"color":"#000000","xOffset":-1.5,"opacity":1}},
   {"data":{"name":"xl"},"mark":{"type":"text","fontSize":17,"dy":18,"dx":-2,"baseline":"middle"},"encoding":{"text":{"field":"t"}}},
   {"data":{"name":"yl"},"mark":{"type":"text","fontSize":17,"dx":-10,"align":"right","baseline":"middle"},"encoding":{"text":{"field":"t"}}},
   {"data":{"name":"bl"},"mark":{"type":"text","fontSize":18,"fontStyle":"italic","dy":38,"baseline":"middle"},"encoding":{"text":{"field":"t"}}}
  ]},
 {"width":570,"height":512,
  "encoding":{"x":{"field":"x","type":"quantitative","scale":{"domain":[-0.2332,1.1272],"nice":false,"zero":false},"axis":null},"y":{"field":"y","type":"quantitative","scale":{"domain":[-3.42,3.367],"nice":false,"zero":false},"axis":null}},
  "layer":[
   {"data":{"name":"cF"},"mark":{"type":"line","interpolate":"monotone","strokeWidth":1.3},"encoding":{"color":{"field":"s","type":"nominal","scale":{"domain":["brown","pink","black","green","blue","red"],"range":["#cd853f","#ffc0cb","#000000","#00ff00","#0000ff","#ff0000"]},"legend":null}}},
   {"data":{"name":"bF"},"mark":{"type":"rect","color":"#cd853f"},"encoding":{"x2":{"field":"x2"},"y2":{"field":"y2"}}},
   {"data":{"name":"nF"},"mark":{"type":"rule","strokeWidth":1.5},"encoding":{"y2":{"field":"y2"},"color":{"field":"s","type":"nominal","scale":{"domain":["brown","pink","black","green","blue","red"],"range":["#cd853f","#ffc0cb","#000000","#00ff00","#0000ff","#ff0000"]},"legend":null}}},
   {"data":{"name":"al"},"mark":{"type":"rule","color":"#000000","strokeWidth":1.2},"encoding":{"x2":{"field":"x2"},"y2":{"field":"y2"}}},
   {"data":{"name":"xt"},"mark":{"type":"tick","orient":"vertical","size":4,"thickness":1,"color":"#000000","yOffset":2,"opacity":1}},
   {"data":{"name":"ytM"},"mark":{"type":"tick","orient":"horizontal","size":6,"thickness":1,"color":"#000000","xOffset":-3,"opacity":1}},
   {"data":{"name":"ytm"},"mark":{"type":"tick","orient":"horizontal","size":3,"thickness":1,"color":"#000000","xOffset":-1.5,"opacity":1}},
   {"data":{"name":"xl"},"mark":{"type":"text","fontSize":18,"dy":20,"dx":-2,"baseline":"middle"},"encoding":{"text":{"field":"t"}}},
   {"data":{"name":"yl"},"mark":{"type":"text","fontSize":18,"dx":-12,"align":"right","baseline":"middle"},"encoding":{"text":{"field":"t"}}},
   {"data":{"name":"bl"},"mark":{"type":"text","fontSize":19,"fontStyle":"italic","dy":45,"baseline":"middle"},"encoding":{"text":{"field":"t"}}}
  ]}
]
}
